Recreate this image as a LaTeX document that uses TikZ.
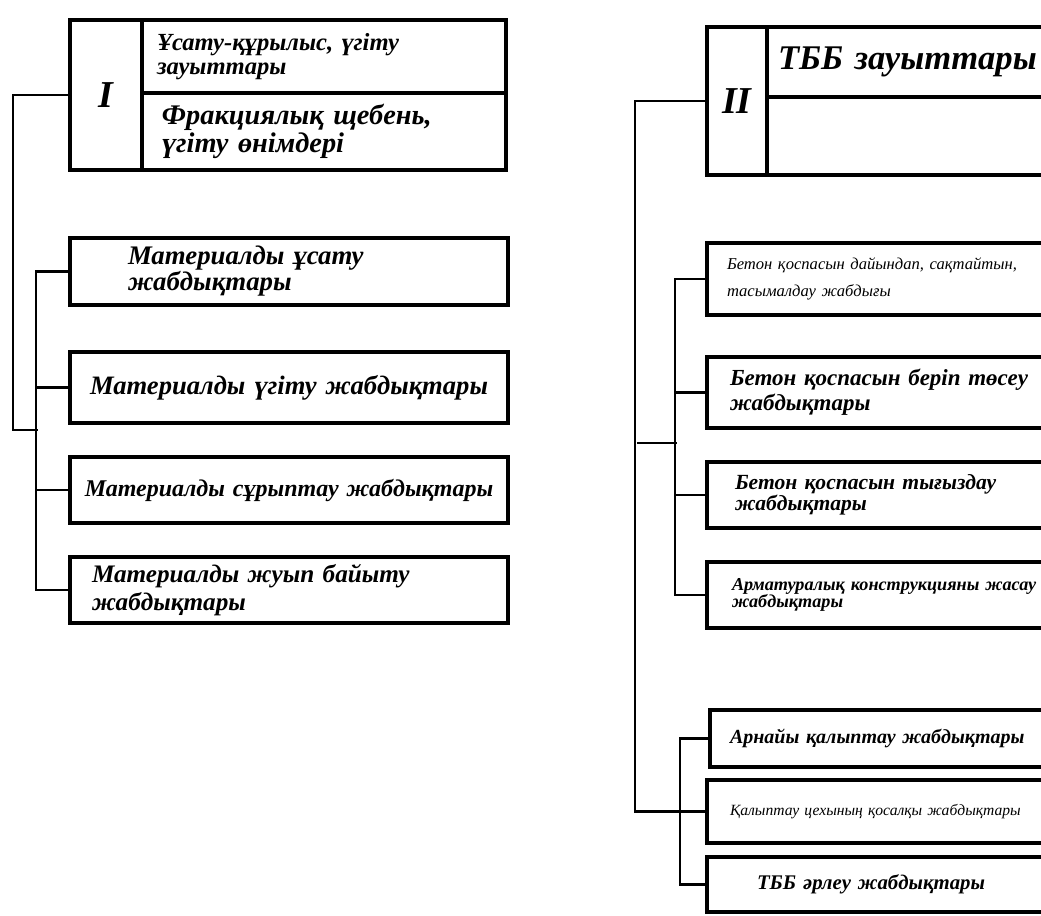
\documentclass[tikz,border=0pt]{standalone}
\usepackage{fontspec}
\setmainfont{Liberation Serif}
\usetikzlibrary{positioning}

\begin{document}
\begin{tikzpicture}[x=0.5pt, y=-0.5pt]
  \tikzset{
    cell/.style={
      draw,
      line width=2pt,
      inner sep=0pt,
      align=left,
      font=\bfseries\itshape
    },
    numcell/.style={
      draw,
      line width=2pt,
      inner sep=0pt,
      font=\bfseries\itshape\fontsize{19}{19}\selectfont
    },
    link/.style={
      draw=black,
      line width=1.3pt
    }
  }

  \useasboundingbox (0,0) rectangle (1041,916);
  \clip (0,0) rectangle (1041,916);

  % Group I: head block
  \node[numcell, minimum width=36pt, minimum height=75pt] (romanI) at (106,95) {I};
  \node[cell, minimum width=182pt, minimum height=36.5pt, text width=167pt,
        font=\bfseries\itshape\fontsize{12.3}{12}\selectfont] (plantI) at (324,56.5)
        {Ұсату-құрылыс, үгіту\\зауыттары};
  \node[cell, minimum width=182pt, minimum height=38.5pt, text width=162pt,
        font=\bfseries\itshape\fontsize{14.2}{14}\selectfont] (prodI) at (324,131.5)
        {Фракциялық щебень,\\үгіту өнімдері};

  % Group I: equipment boxes
  \node[cell, minimum width=219pt, minimum height=33.5pt, text width=161pt,
        font=\bfseries\itshape\fontsize{13.4}{13}\selectfont] (m1) at (289,271.5)
        {Материалды ұсату\\жабдықтары};
  \node[cell, minimum width=219pt, minimum height=35.5pt, text width=214pt, align=center,
        font=\bfseries\itshape\fontsize{13.3}{15}\selectfont] (m2) at (289,387.5)
        {Материалды үгіту жабдықтары};
  \node[cell, minimum width=219pt, minimum height=33pt, text width=216pt, align=center,
        font=\bfseries\itshape\fontsize{12}{15}\selectfont] (m3) at (289,490)
        {Материалды сұрыптау жабдықтары};
  \node[cell, minimum width=219pt, minimum height=33pt, text width=197pt,
        font=\bfseries\itshape\fontsize{12.6}{14}\selectfont] (m4) at (289,590)
        {Материалды жуып байыту\\жабдықтары};

  % Group I connectors
  \coordinate (busI) at (13,430);
  \coordinate (jI) at (38,430);
  \draw[link] (romanI.west) -| (busI) -- (jI);
  \draw[link] (m1.west) -- ++(-32,0) |- (m4.west);
  \draw[link] (m2.west) -- ++(-32,0);
  \draw[link] (m3.west) -- ++(-32,0);

  % Group II: head block
  \node[numcell, minimum width=30pt, minimum height=74pt] (romanII) at (737,101) {II};
  \node[cell, minimum width=166.5pt, minimum height=35pt, text width=155.5pt,
        font=\bfseries\itshape\fontsize{17.3}{17}\selectfont] (plantII) at (933.5,62)
        {ТББ зауыттары};
  \node[cell, minimum width=166.5pt, minimum height=39pt] (emptyII) at (933.5,136) {};

  % Group II: concrete equipment
  \node[cell, minimum width=196.5pt, minimum height=36pt, text width=176.5pt,
        font=\itshape\fontsize{8.3}{13.5}\selectfont] (b1) at (903.5,279)
        {Бетон қоспасын дайындап, сақтайтын,\\тасымалдау жабдығы};
  \node[cell, minimum width=196.5pt, minimum height=35.5pt, text width=173.5pt,
        font=\bfseries\itshape\fontsize{11.5}{12.5}\selectfont] (b2) at (903.5,392.5)
        {Бетон қоспасын беріп төсеу\\жабдықтары};
  \node[cell, minimum width=196.5pt, minimum height=33pt, text width=168.5pt,
        font=\bfseries\itshape\fontsize{10.8}{10.5}\selectfont] (b3) at (903.5,495)
        {Бетон қоспасын тығыздау\\жабдықтары};
  \node[cell, minimum width=196.5pt, minimum height=33pt, text width=171.5pt,
        font=\bfseries\itshape\fontsize{9.1}{8.8}\selectfont] (b4) at (903.5,595)
        {Арматуралық конструкцияны жасау\\жабдықтары};

  % Group II: moulding equipment
  \node[cell, minimum width=195pt, minimum height=28.5pt, text width=175pt,
        font=\bfseries\itshape\fontsize{10}{12}\selectfont] (f1) at (905,738.5)
        {Арнайы қалыптау жабдықтары};
  \node[cell, minimum width=196.5pt, minimum height=31.5pt, text width=173.5pt,
        font=\itshape\fontsize{7.8}{10}\selectfont] (f2) at (903.5,811.5)
        {Қалыптау цехының қосалқы жабдықтары};
  \node[cell, minimum width=196.5pt, minimum height=27.5pt, text width=146.5pt,
        font=\bfseries\itshape\fontsize{10.4}{12}\selectfont] (f3) at (903.5,884.5)
        {ТББ әрлеу жабдықтары};

  % Group II connectors
  \coordinate (busII) at (637,443);
  \coordinate (jII) at (677,443);
  \draw[link] (romanII.west) -- ++(-70,0) |- (f2.west);
  \draw[link] (busII) -- (jII);
  \draw[link] (b1.west) -- ++(-30,0) |- (b4.west);
  \draw[link] (b2.west) -- ++(-30,0);
  \draw[link] (b3.west) -- ++(-30,0);
  \draw[link] (f1.west) -- ++(-28,0) |- (f3.west);
\end{tikzpicture}
\end{document}
